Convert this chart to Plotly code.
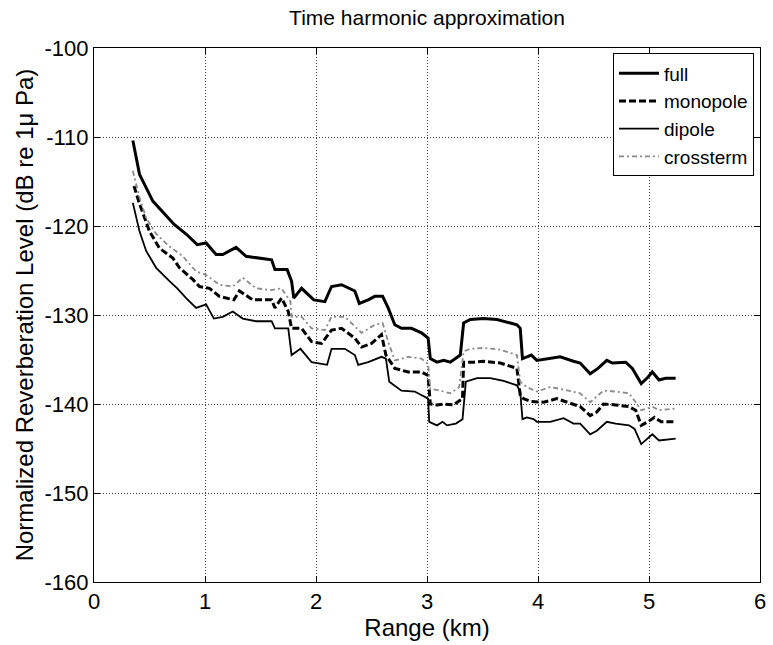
import plotly.graph_objects as go

# ---- data ----
full_x = [0.35, 0.41, 0.53, 0.65, 0.72, 0.83, 0.93, 1.01, 1.10, 1.16, 1.28, 1.37, 1.48, 1.60, 1.63,
          1.74, 1.78, 1.80, 1.87, 1.98, 2.08, 2.14, 2.23, 2.35, 2.39, 2.47, 2.53, 2.60, 2.65, 2.71,
          2.77, 2.86, 2.95, 3.01, 3.03, 3.09, 3.15, 3.21, 3.30, 3.33, 3.39, 3.51, 3.63, 3.81, 3.84,
          3.86, 3.90, 3.94, 3.99, 4.11, 4.20, 4.32, 4.38, 4.47, 4.54, 4.62, 4.67, 4.79, 4.85, 4.93,
          4.99, 5.03, 5.09, 5.15, 5.24]
full_y = [-110.4, -114.2, -117.2, -118.9, -119.8, -120.9, -122.1, -121.9, -123.2, -123.2, -122.4, -123.4, -123.6, -123.8, -124.9,
          -124.9, -126.2, -128.1, -127.0, -128.3, -128.5, -126.8, -126.6, -127.3, -128.7, -128.3, -127.9, -127.9, -129.2, -131.1,
          -131.5, -131.5, -132.0, -132.6, -134.9, -135.3, -135.1, -135.3, -134.5, -130.9, -130.5, -130.4, -130.5, -131.1, -131.5,
          -134.9, -134.7, -134.5, -135.1, -134.9, -134.7, -135.2, -135.4, -136.6, -136.0, -135.1, -135.4, -135.3, -136.0, -137.7,
          -137.0, -136.4, -137.3, -137.1, -137.1]

mono_x = [0.36, 0.41, 0.50, 0.59, 0.71, 0.77, 0.89, 0.95, 1.04, 1.13, 1.26, 1.31, 1.43, 1.60, 1.63,
          1.69, 1.75, 1.78, 1.87, 1.96, 2.05, 2.14, 2.23, 2.35, 2.41, 2.50, 2.59, 2.63, 2.71, 2.83,
          2.95, 3.01, 3.03, 3.09, 3.15, 3.24, 3.32, 3.33, 3.42, 3.51, 3.66, 3.81, 3.84, 3.87, 3.93,
          4.05, 4.17, 4.32, 4.38, 4.47, 4.53, 4.59, 4.70, 4.82, 4.88, 4.93, 4.99, 5.05, 5.11, 5.24]
mono_y = [-115.5, -117.5, -120.6, -122.5, -123.6, -124.7, -126.0, -126.8, -127.0, -127.9, -128.3, -127.3, -128.3, -128.3, -129.2,
          -128.1, -129.6, -131.5, -131.5, -133.0, -133.2, -131.7, -131.5, -132.6, -133.6, -133.2, -132.2, -134.5, -136.0, -136.4,
          -136.4, -136.8, -140.0, -140.1, -140.0, -140.1, -139.4, -135.3, -135.3, -135.2, -135.4, -136.0, -139.0, -139.4, -139.7,
          -139.8, -139.4, -140.0, -140.3, -141.3, -140.9, -140.0, -140.1, -140.3, -140.7, -142.4, -142.0, -141.5, -142.0, -142.0]

dip_x = [0.35, 0.41, 0.47, 0.56, 0.68, 0.75, 0.83, 0.92, 1.01, 1.08, 1.16, 1.25, 1.34, 1.46, 1.60, 1.63,
         1.75, 1.78, 1.86, 1.96, 2.10, 2.14, 2.26, 2.35, 2.38, 2.47, 2.59, 2.63, 2.66, 2.77, 2.89, 3.01,
         3.02, 3.09, 3.14, 3.18, 3.26, 3.32, 3.35, 3.45, 3.57, 3.69, 3.81, 3.84, 3.86, 3.90, 3.96, 3.99,
         4.11, 4.23, 4.32, 4.38, 4.47, 4.53, 4.62, 4.70, 4.82, 4.87, 4.93, 4.99, 5.03, 5.09, 5.24]
dip_y = [-117.4, -120.6, -122.8, -124.7, -126.2, -127.0, -128.1, -129.2, -128.8, -130.4, -130.2, -129.6, -130.4, -130.7, -130.7, -131.5,
         -131.5, -134.5, -133.8, -135.3, -135.6, -133.8, -133.8, -134.5, -135.6, -135.3, -134.7, -134.9, -137.5, -138.5, -138.6, -139.4,
         -142.0, -142.4, -142.0, -142.4, -142.2, -141.7, -137.5, -137.1, -137.1, -137.4, -137.9, -138.6, -141.7, -141.5, -141.7, -142.0,
         -142.0, -141.6, -142.2, -142.2, -143.4, -143.0, -142.0, -142.2, -142.4, -142.8, -144.5, -143.9, -143.4, -144.1, -143.9]

cross_x = [0.35, 0.41, 0.47, 0.56, 0.68, 0.80, 0.92, 1.01, 1.13, 1.25, 1.34, 1.46, 1.60,
           1.69, 1.77, 1.78, 1.87, 1.96, 2.08, 2.14, 2.26, 2.35, 2.41, 2.53, 2.60, 2.65, 2.71, 2.83, 2.95, 3.01,
           3.03, 3.12, 3.21, 3.29, 3.33, 3.39, 3.51, 3.66, 3.81, 3.84, 3.90, 3.99, 4.11, 4.20, 4.32,
           4.38, 4.47, 4.59, 4.70, 4.82, 4.88, 4.93, 5.03, 5.09, 5.24]
cross_y = [-113.8, -116.8, -119.1, -120.9, -122.3, -123.4, -125.1, -125.5, -126.6, -126.8, -125.8, -127.0, -127.2,
           -127.0, -128.5, -130.2, -130.2, -131.5, -131.7, -130.2, -130.2, -131.3, -132.0, -131.1, -130.9, -133.0, -135.1, -134.7, -134.9, -135.5,
           -138.3, -138.5, -138.8, -138.1, -134.1, -133.8, -133.7, -133.9, -134.5, -137.5, -138.1, -138.6, -138.1, -138.3, -138.6,
           -138.8, -139.8, -138.5, -138.6, -138.8, -139.8, -140.7, -140.3, -140.7, -140.5]

x_ticks = [0, 1, 2, 3, 4, 5, 6]
y_ticks = [-160, -150, -140, -130, -120, -110, -100]

FONT = "Liberation Sans, Arial, sans-serif"

fig = go.Figure()
fig.add_trace(go.Scatter(x=full_x, y=full_y, name="full", mode="lines",
                         line=dict(color="black", width=3)))
fig.add_trace(go.Scatter(x=mono_x, y=mono_y, name="monopole", mode="lines",
                         line=dict(color="black", width=3, dash="7px,3px")))
fig.add_trace(go.Scatter(x=dip_x, y=dip_y, name="dipole", mode="lines",
                         line=dict(color="black", width=1.8)))
fig.add_trace(go.Scatter(x=cross_x, y=cross_y, name="crossterm", mode="lines",
                         line=dict(color="#8a8a8a", width=1.8, dash="5px,3px,2px,3px")))

axis_common = dict(
    showline=True, linecolor="black", linewidth=1, mirror="ticks",
    ticks="inside", ticklen=6, tickcolor="black",
    showgrid=True, gridcolor="rgba(0,0,0,0.75)", gridwidth=1, griddash="1px,2px",
    zeroline=False, tickfont=dict(family=FONT, size=22, color="black"),
)

fig.update_layout(
    width=773, height=645,
    margin=dict(l=94, r=7, t=48, b=63),
    paper_bgcolor="white", plot_bgcolor="white",
    font=dict(family=FONT, color="black"),
    title=dict(text="Time harmonic approximation", x=0.5, xref="paper", y=0.972, yanchor="middle",
               font=dict(family=FONT, size=21, color="black")),
    xaxis=dict(range=[0, 6], tickvals=x_ticks, ticktext=[str(v) for v in x_ticks],
               title=dict(text="Range (km)", font=dict(family=FONT, size=24), standoff=2),
               **axis_common),
    yaxis=dict(range=[-160, -100], tickvals=y_ticks, ticktext=[str(v) for v in y_ticks],
               title=dict(text="Normalized Reverberation Level (dB re 1\u03bc Pa)",
                          font=dict(family=FONT, size=24), standoff=4),
               **axis_common),
    legend=dict(x=0.991, y=0.99, xanchor="right", yanchor="top",
                bgcolor="white", bordercolor="black", borderwidth=1,
                font=dict(family=FONT, size=19, color="black"),
                itemwidth=40, tracegroupgap=0),
    showlegend=True,
)

fig.write_html("out.html")
